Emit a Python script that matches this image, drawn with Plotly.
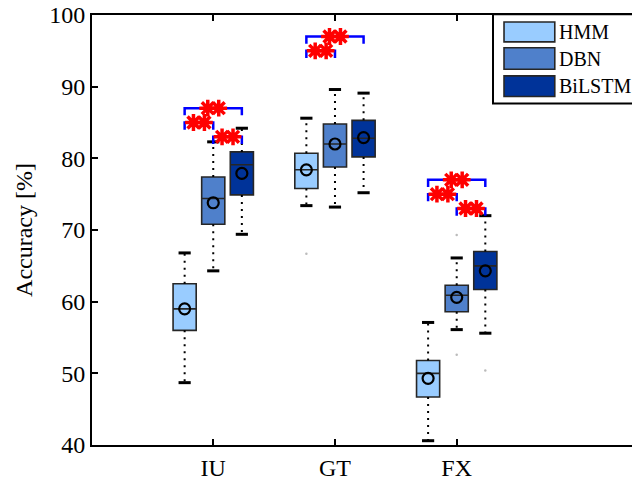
import plotly.graph_objects as go

# ---- data ----
groups = ["IU", "GT", "FX"]
methods = ["HMM", "DBN", "BiLSTM"]

upper_whisker = {"HMM": [66.8, 85.6, 57.1], "DBN": [82.3, 89.6, 66.1], "BiLSTM": [84.2, 89.1, 72.0]}
q3_values     = {"HMM": [62.5, 80.7, 51.8], "DBN": [77.4, 84.8, 62.3], "BiLSTM": [80.9, 85.3, 67.0]}
median_values = {"HMM": [59.0, 78.4, 50.0], "DBN": [74.4, 82.0, 60.9], "BiLSTM": [79.1, 82.8, 65.0]}
mean_values   = {"HMM": [59.0, 78.4, 49.3], "DBN": [73.8, 82.0, 60.6], "BiLSTM": [77.9, 82.9, 64.3]}
q1_values     = {"HMM": [56.0, 75.8, 46.7], "DBN": [70.8, 78.8, 58.6], "BiLSTM": [74.9, 80.2, 61.7]}
lower_whisker = {"HMM": [48.7, 73.4, 40.6], "DBN": [64.3, 73.2, 56.1], "BiLSTM": [69.4, 75.2, 55.6]}

# outliers: (group, method, value)
outliers = [("GT", "HMM", 66.7), ("FX", "DBN", 69.3), ("FX", "DBN", 52.6), ("FX", "BiLSTM", 50.4)]

# significance brackets: group -> list of (method_a, method_b, level)
brackets = {
    "IU": [("HMM", "BiLSTM", 87), ("HMM", "DBN", 85), ("DBN", "BiLSTM", 83)],
    "GT": [("HMM", "BiLSTM", 97), ("HMM", "DBN", 95)],
    "FX": [("HMM", "BiLSTM", 77), ("HMM", "DBN", 75), ("DBN", "BiLSTM", 73)],
}

y_ticks = [40, 50, 60, 70, 80, 90, 100]

# ---- styling ----
colors = {"HMM": "#99CCFF", "DBN": "#4F80CB", "BiLSTM": "#003399"}
offsets = {"HMM": -0.235, "DBN": 0.0, "BiLSTM": 0.235}
box_width = 0.19
cap_half = 0.05
FONT = "Liberation Serif"

def pos(g, m):
    return groups.index(g) + 1 + offsets[m]

fig = go.Figure()

for m in methods:
    xs = [pos(g, m) for g in groups]
    wx, wy = [], []
    cx, cy = [], []
    for i, x in enumerate(xs):
        wx += [x, x, None, x, x, None]
        wy += [q3_values[m][i], upper_whisker[m][i], None, q1_values[m][i], lower_whisker[m][i], None]
        cx += [x - cap_half, x + cap_half, None, x - cap_half, x + cap_half, None]
        cy += [upper_whisker[m][i], upper_whisker[m][i], None, lower_whisker[m][i], lower_whisker[m][i], None]
    fig.add_trace(go.Scatter(x=wx, y=wy, mode="lines", line=dict(color="black", width=2, dash="2px,5px"),
                             showlegend=False, hoverinfo="skip"))
    fig.add_trace(go.Scatter(x=cx, y=cy, mode="lines", line=dict(color="black", width=3),
                             showlegend=False, hoverinfo="skip"))
    fig.add_trace(go.Box(
        x=xs, q1=q1_values[m], median=median_values[m], q3=q3_values[m],
        lowerfence=q1_values[m], upperfence=q3_values[m],
        width=box_width, whiskerwidth=0,
        fillcolor=colors[m], line=dict(color="#262626", width=1.6),
        name=m, showlegend=False, boxpoints=False,
    ))
    fig.add_trace(go.Scatter(x=xs, y=mean_values[m], mode="markers",
                             marker=dict(symbol="circle-open", size=11, color="black", line=dict(width=2.2)),
                             showlegend=False, hoverinfo="skip"))

# outliers (faint dots)
fig.add_trace(go.Scatter(x=[pos(g, m) for g, m, v in outliers], y=[v for g, m, v in outliers],
                         mode="markers", marker=dict(size=2.5, color="#bbbbbb"),
                         showlegend=False, hoverinfo="skip"))

# significance brackets
leg = 1.0
bx, by, sx, sy = [], [], [], []
for g, lst in brackets.items():
    for a, b, lvl in lst:
        xa, xb = pos(g, a), pos(g, b)
        bx += [xa, xa, xb, xb, None]
        by += [lvl - leg, lvl, lvl, lvl - leg, None]
        mid = (xa + xb) / 2
        sx += [mid - 0.045, mid + 0.045]
        sy += [lvl, lvl]
fig.add_trace(go.Scatter(x=bx, y=by, mode="lines", line=dict(color="#0000FF", width=2.5),
                         showlegend=False, hoverinfo="skip"))
fig.add_trace(go.Scatter(x=sx, y=sy, mode="markers",
                         marker=dict(symbol="asterisk-open", size=14, color="#FF0000",
                                     line=dict(width=3.5, color="#FF0000")),
                         showlegend=False, hoverinfo="skip"))

# ---- manual legend (paper coords) ----
shapes = [dict(type="rect", xref="paper", yref="paper", x0=0.7426, x1=1.03, y0=0.794, y1=1.002,
               line=dict(color="black", width=2), fillcolor="white", layer="below")]
annotations = []
rect_y = [(0.9376, 0.9838), (0.8738, 0.9238), (0.8106, 0.8584)]
for m, (y0, y1) in zip(methods, rect_y):
    shapes.append(dict(type="rect", xref="paper", yref="paper", x0=0.763, x1=0.857, y0=y0, y1=y1,
                       line=dict(color="#262626", width=1.6), fillcolor=colors[m]))
    annotations.append(dict(xref="paper", yref="paper", x=0.861, y=(y0 + y1) / 2, text=m,
                            showarrow=False, xanchor="left", yanchor="middle",
                            font=dict(family=FONT, size=20, color="black")))

fig.update_layout(
    width=632, height=481,
    margin=dict(l=92, r=0, t=15, b=33),
    paper_bgcolor="white", plot_bgcolor="white",
    font=dict(family=FONT, size=24, color="black"),
    shapes=shapes, annotations=annotations,
    showlegend=False,
)
fig.update_xaxes(range=[0.004, 4.44], tickvals=[1, 2, 3], ticktext=groups,
                 showline=True, linecolor="black", linewidth=2, mirror="ticks",
                 ticks="inside", ticklen=6, tickwidth=2, tickcolor="black",
                 showgrid=False, zeroline=False)
fig.update_yaxes(range=[40, 100], tickvals=y_ticks,
                 showline=True, linecolor="black", linewidth=2, mirror=False,
                 ticks="inside", ticklen=6, tickwidth=2, tickcolor="black",
                 showgrid=False, zeroline=False,
                 title=dict(text="Accuracy [%]", standoff=10, font=dict(family=FONT, size=24)))

fig.write_html("out.html", config={"displayModeBar": False},
               post_script="document.body.style.margin='0px';document.body.style.overflow='hidden';")
